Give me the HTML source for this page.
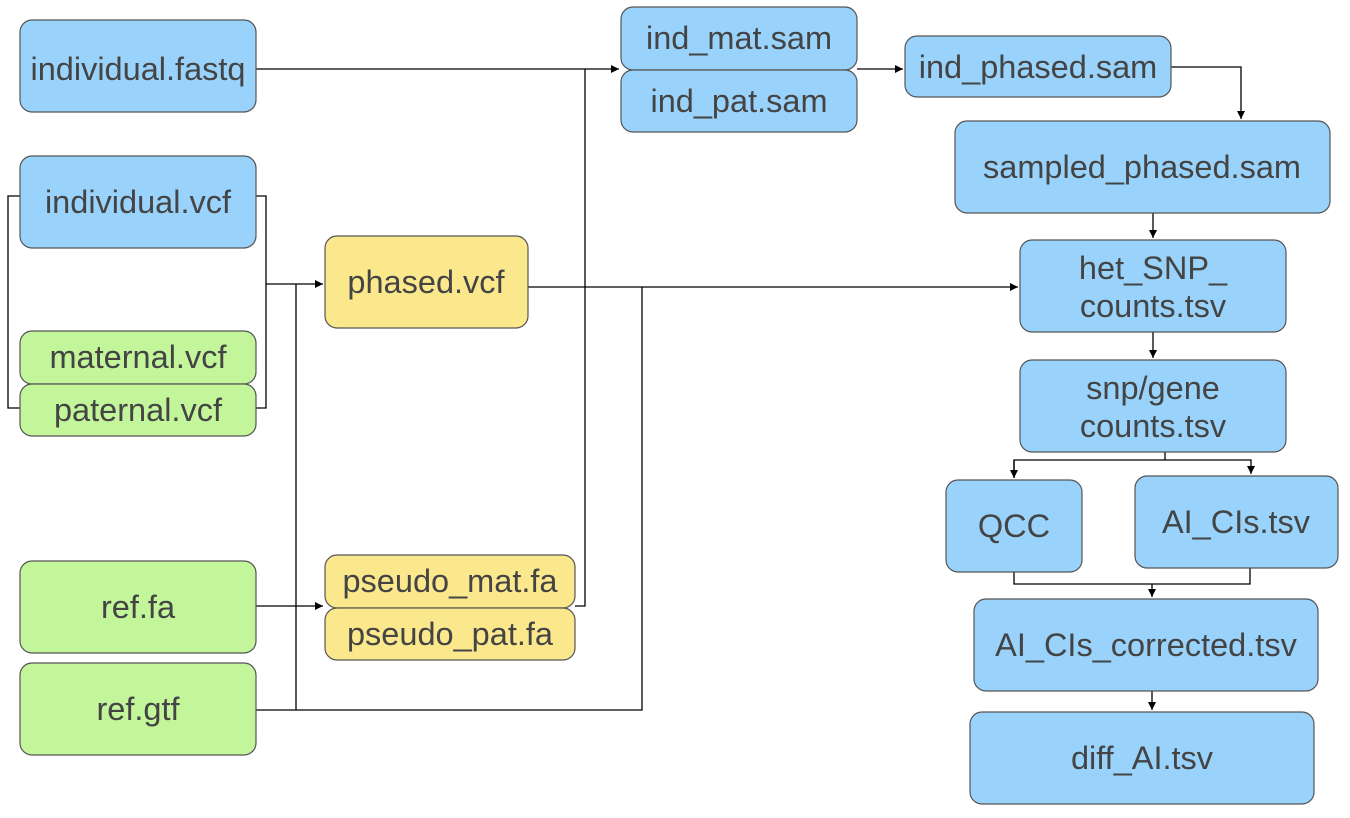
<!DOCTYPE html>
<html><head><meta charset="utf-8"><style>
html,body{margin:0;padding:0;background:#fff;}
svg{display:block}
text{font-family:"Liberation Sans",sans-serif;font-size:32.5px;fill:#444;text-anchor:middle;dominant-baseline:central}
.b{fill:#99d3fb;stroke:#555;stroke-width:1.2}
.g{fill:#c3f59a;stroke:#555;stroke-width:1.2}
.y{fill:#fce88c;stroke:#555;stroke-width:1.2}
.l{fill:none;stroke:#000;stroke-width:1.3}
</style></head><body>
<svg width="1350" height="818" viewBox="0 0 1350 818">
<defs><marker id="a" markerWidth="10" markerHeight="10" refX="8" refY="4" orient="auto" markerUnits="userSpaceOnUse"><path d="M0,0 L8,4 L0,8 z" fill="#000"/></marker></defs>
<path class="l" d="M256,69 H619" marker-end="url(#a)"/>
<path class="l" d="M585,69 V606 H575"/>
<path class="l" d="M20,196 H8 V408 H20"/>
<path class="l" d="M256,196 H266 V408 H256"/>
<path class="l" d="M266,284 H323" marker-end="url(#a)"/>
<path class="l" d="M296,284 V710"/>
<path class="l" d="M256,710 H642 V287"/>
<path class="l" d="M528,287 H1018" marker-end="url(#a)"/>
<path class="l" d="M256,606 H323" marker-end="url(#a)"/>
<path class="l" d="M857,69 H903" marker-end="url(#a)"/>
<path class="l" d="M1171,67 H1241 V119" marker-end="url(#a)"/>
<path class="l" d="M1153,213 V238" marker-end="url(#a)"/>
<path class="l" d="M1153,332 V358" marker-end="url(#a)"/>
<path class="l" d="M1165,452 V460"/>
<path class="l" d="M1014,478 V460 H1251 V474" marker-end="url(#a)"/>
<path class="l" d="M1014,460 V478" marker-end="url(#a)"/>
<path class="l" d="M1014,572 V584 H1250 V568"/>
<path class="l" d="M1152,584 V597" marker-end="url(#a)"/>
<path class="l" d="M1152,691 V710" marker-end="url(#a)"/>
<rect class="b" x="20" y="20" width="236" height="92" rx="12"/><text x="138" y="69">individual.fastq</text>
<rect class="b" x="20" y="156" width="236" height="92" rx="12"/><text x="138" y="202">individual.vcf</text>
<rect class="g" x="20" y="331" width="236" height="53" rx="12"/><text x="138" y="357">maternal.vcf</text>
<rect class="g" x="20" y="384" width="236" height="52" rx="12"/><text x="138" y="410">paternal.vcf</text>
<rect class="y" x="325" y="236" width="203" height="92" rx="12"/><text x="426" y="282">phased.vcf</text>
<rect class="g" x="20" y="561" width="236" height="92" rx="12"/><text x="138" y="607">ref.fa</text>
<rect class="g" x="20" y="663" width="236" height="92" rx="12"/><text x="138" y="709">ref.gtf</text>
<rect class="y" x="325" y="555" width="250" height="53" rx="12"/><text x="450" y="581">pseudo_mat.fa</text>
<rect class="y" x="325" y="608" width="250" height="52" rx="12"/><text x="450" y="634">pseudo_pat.fa</text>
<rect class="b" x="621" y="7" width="236" height="63" rx="12"/><text x="739" y="38">ind_mat.sam</text>
<rect class="b" x="621" y="70" width="236" height="62" rx="12"/><text x="739" y="101">ind_pat.sam</text>
<rect class="b" x="905" y="36" width="266" height="61" rx="12"/><text x="1038" y="67">ind_phased.sam</text>
<rect class="b" x="955" y="121" width="375" height="92" rx="12"/><text x="1142" y="167">sampled_phased.sam</text>
<rect class="b" x="1020" y="240" width="266" height="92" rx="12"/><text x="1153" y="268">het_SNP_</text><text x="1153" y="306">counts.tsv</text>
<rect class="b" x="1020" y="360" width="266" height="92" rx="12"/><text x="1153" y="388">snp/gene</text><text x="1153" y="426">counts.tsv</text>
<rect class="b" x="946" y="480" width="136" height="92" rx="12"/><text x="1014" y="526">QCC</text>
<rect class="b" x="1135" y="476" width="203" height="92" rx="12"/><text x="1236" y="522">AI_CIs.tsv</text>
<rect class="b" x="974" y="599" width="344" height="92" rx="12"/><text x="1146" y="645">AI_CIs_corrected.tsv</text>
<rect class="b" x="970" y="712" width="344" height="92" rx="12"/><text x="1142" y="758">diff_AI.tsv</text>
</svg>
</body></html>
